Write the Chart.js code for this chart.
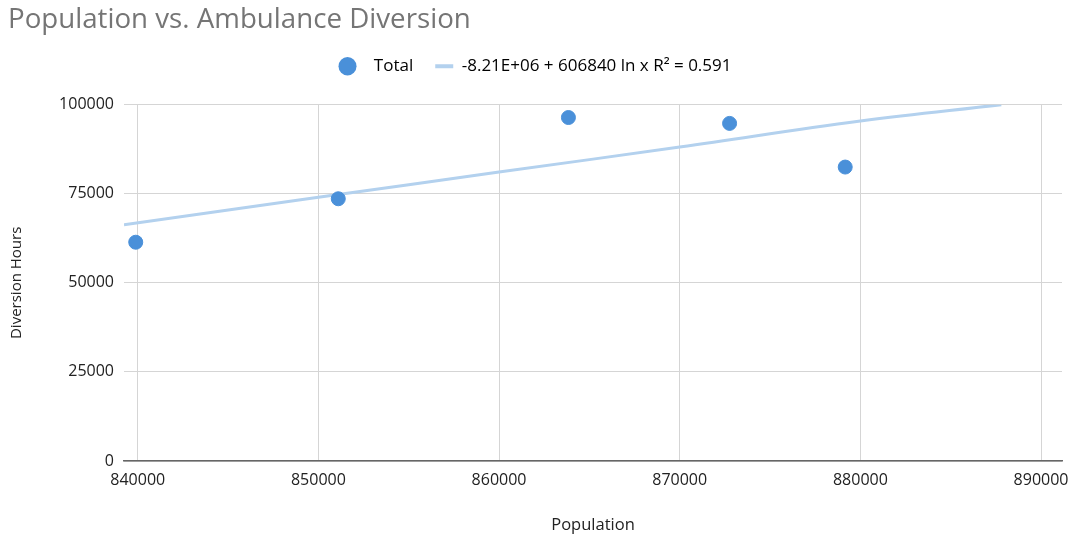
<!DOCTYPE html>
<html>
<head>
<meta charset="utf-8">
<script src="https://cdn.jsdelivr.net/npm/chart.js@4"></script>
<style>
  html, body { margin: 0; padding: 0; background: #fff; }
</style>
</head>
<body>
<canvas id="popChart" width="1072" height="539"></canvas>
<script>
// values
const population = [839890, 851100, 863840, 872760, 879160];
const diversionHours = [61400, 73600, 96400, 94750, 82500];
const trendX = [839240, 850000, 860000, 870000, 880000, 887800];
const trendY = [66300, 74000, 81100, 88100, 95400, 100000];
const xTicks = [840000, 850000, 860000, 870000, 880000, 890000];
const yTicks = [0, 25000, 50000, 75000, 100000];
const trendLabel = "-8.21E+06 + 606840 ln x R\u00B2 = 0.591";

const dotColor = "#4a90d9";
const trendColor = "#b3d1ee";
const gridColor = "#d5d5d5";
const fontFamily = "'Open Sans', sans-serif";

// legend gets some extra room underneath it
const legendGap = {
  id: "legendGap",
  beforeLayout(chart) {
    const lg = chart.legend;
    if (lg && !lg._gapDone) {
      const fit = lg.fit.bind(lg);
      lg.fit = function () {
        fit();
        this.height += 20;
      };
      lg._gapDone = true;
    }
  },
};

const ctx = document.getElementById("popChart").getContext("2d");
new Chart(ctx, {
  type: "scatter",
  data: {
    datasets: [
      {
        label: "Total",
        data: population.map((x, i) => ({ x: x, y: diversionHours[i] })),
        backgroundColor: dotColor,
        borderColor: dotColor,
        pointRadius: 7,
        pointHoverRadius: 7,
        order: 1,
      },
      {
        type: "line",
        label: trendLabel,
        data: trendX.map((x, i) => ({ x: x, y: trendY[i] })),
        borderColor: trendColor,
        borderWidth: 3,
        pointRadius: 0,
        tension: 0.4,
        fill: false,
        order: 2,
      },
    ],
  },
  plugins: [legendGap],
  options: {
    responsive: false,
    animation: false,
    layout: { padding: { left: 8, right: 10, top: 0, bottom: 0 } },
    plugins: {
      tooltip: { enabled: false },
      title: {
        display: true,
        text: "Population vs. Ambulance Diversion",
        align: "start",
        color: "#757575",
        font: { family: fontFamily, size: 27.7, weight: "normal", lineHeight: 1 },
        padding: { top: 6, bottom: 2 },
      },
      legend: {
        position: "top",
        labels: {
          usePointStyle: true,
          pointStyleWidth: 18,
          boxHeight: 13,
          padding: 22,
          color: "#222",
          font: { family: fontFamily, size: 17 },
          generateLabels: () => [
            {
              text: "  Total",
              pointStyle: "circle",
              fillStyle: dotColor,
              strokeStyle: dotColor,
              lineWidth: 0,
              datasetIndex: 0,
            },
            {
              text: trendLabel,
              pointStyle: "line",
              fillStyle: trendColor,
              strokeStyle: trendColor,
              lineWidth: 4,
              datasetIndex: 1,
            },
          ],
        },
      },
    },
    scales: {
      x: {
        type: "linear",
        min: 839240,
        max: 891160,
        afterBuildTicks: (axis) => {
          axis.ticks = xTicks.map((v) => ({ value: v }));
        },
        afterFit: (scale) => {
          scale.height = 78;
          scale.paddingLeft = 0;
          scale.paddingRight = 0;
        },
        grid: { color: gridColor, drawTicks: false },
        border: { color: "#666", width: 1.5 },
        ticks: {
          padding: 10,
          color: "#222",
          font: { family: fontFamily, size: 16 },
          callback: (v) => String(v),
        },
        title: {
          display: true,
          text: "Population",
          color: "#222",
          font: { family: fontFamily, size: 16.5 },
          padding: { top: 0, bottom: 4 },
        },
      },
      y: {
        min: 0,
        max: 100000,
        afterBuildTicks: (axis) => {
          axis.ticks = yTicks.map((v) => ({ value: v }));
        },
        afterFit: (scale) => {
          scale.width = 116;
          scale.paddingTop = 0;
          scale.paddingBottom = 0;
        },
        grid: { color: gridColor, drawTicks: false },
        border: { display: false },
        ticks: {
          padding: 10,
          color: "#222",
          font: { family: fontFamily, size: 16 },
          callback: (v) => String(v),
        },
        title: {
          display: true,
          text: "Diversion Hours",
          color: "#222",
          font: { family: fontFamily, size: 15 },
          padding: { top: 0, bottom: 0 },
        },
      },
    },
  },
});
</script>
</body>
</html>
